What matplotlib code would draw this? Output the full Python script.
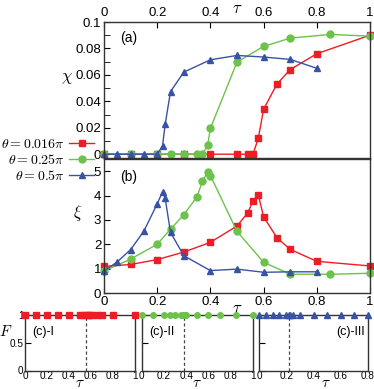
import matplotlib
matplotlib.use("Agg")
import matplotlib.pyplot as plt

# -----------------------------
# data
# -----------------------------
# theta = 0.016 pi  (red squares)
tau_r = [0, 0.1, 0.2, 0.3, 0.4, 0.5, 0.54, 0.56, 0.58, 0.6, 0.65, 0.7, 0.8, 1.0]
chi_r = [0, 0, 0, 0, 0, 0, 0, 0, 0.012, 0.034, 0.053, 0.064, 0.076, 0.09]
xi_r = [1.09, 1.17, 1.37, 1.68, 2.08, 2.75, 3.28, 3.77, 4.03, 3.13, 2.27, 1.79, 1.30, 1.11]

# theta = 0.25 pi  (green circles)
tau_g = [0, 0.1, 0.2, 0.25, 0.3, 0.35, 0.37, 0.39, 0.4, 0.5, 0.6, 0.7, 0.85, 1.0]
chi_g = [0, 0, 0, 0, 0, 0, 0, 0.007, 0.0196, 0.0697, 0.0815, 0.0878, 0.0906, 0.0893]
xi_g = [0.9, 1.39, 2.0, 2.62, 3.21, 3.96, 4.59, 4.96, 4.82, 2.53, 1.26, 0.77, 0.77, 0.81]

# theta = 0.5 pi  (blue triangles)
tau_b = [0, 0.05, 0.1, 0.15, 0.2, 0.22, 0.23, 0.25, 0.3, 0.4, 0.5, 0.6, 0.7, 0.8]
chi_b = [0, 0, 0, 0, 0, 0.0063, 0.0226, 0.0473, 0.0621, 0.0714, 0.0747, 0.0735, 0.0717, 0.065]
xi_b = [0.9, 1.28, 1.78, 2.54, 3.66, 4.15, 3.89, 2.49, 1.53, 0.92, 0.98, 0.85, 0.87, 0.87]

labels = [r"$\theta = 0.016\pi$", r"$\theta = 0.25\pi$", r"$\theta = 0.5\pi$"]
tau_crit = [0.55, 0.38, 0.22]
panel_c = ["(c)-I", "(c)-II", "(c)-III"]

# -----------------------------
# style
# -----------------------------
plt.rcParams['font.family'] = ['Liberation Sans', 'DejaVu Sans']
plt.rcParams['mathtext.fontset'] = 'cm'
plt.rcParams['axes.linewidth'] = 1.0
plt.rcParams['axes.edgecolor'] = '#333333'

colors = ['#ee1c25', '#6cc24a', '#3853a4']
markers = ['s', 'o', '^']
msizes = [4.5, 5, 4.5]

series = [(tau_r, chi_r, xi_r), (tau_g, chi_g, xi_g), (tau_b, chi_b, xi_b)]

fig = plt.figure(figsize=(3.74, 3.89), dpi=100)

W, H = 374.0, 389.0
def box(x0, y0, x1, y1):
    return [x0 / W, 1 - y1 / H, (x1 - x0) / W, (y1 - y0) / H]

ax_a = fig.add_axes(box(104, 22, 370, 157.5))
ax_b = fig.add_axes(box(104, 159, 370, 293))

# -----------------------------
# panel (a)
# -----------------------------
handles = []
for (t, c, x), col, m, ms, lab in zip(series, colors, markers, msizes, labels):
    h, = ax_a.plot(t, c, color=col, marker=m, ms=ms, lw=1.0, mec=col, clip_on=False, label=lab)
    handles.append(h)
ax_a.set_xlim(0, 1)
ax_a.set_ylim(-0.0025, 0.1)
ax_a.set_yticks([0, 0.02, 0.04, 0.06, 0.08, 0.1])
ax_a.set_yticklabels(['0', '0.02', '0.04', '0.06', '0.08', '0.1'])
ax_a.set_yticks([0.01, 0.03, 0.05, 0.07, 0.09], minor=True)
ax_a.set_xticks([0, 0.2, 0.4, 0.6, 0.8, 1.0])
ax_a.set_xticklabels(['0', '0.2', '0.4', '0.6', '0.8', '1'])
ax_a.xaxis.tick_top()
ax_a.xaxis.set_label_position('top')
ax_a.tick_params(direction='in', labelsize=9.5, length=4, pad=2)
ax_a.tick_params(which='minor', direction='in', length=4)
ax_a.set_xlabel(r"$\tau$", fontsize=12, labelpad=-4)
ax_a.set_ylabel(r"$\chi$", fontsize=12, rotation=0, labelpad=8)
ax_a.yaxis.set_label_coords(-0.14, 0.53)
ax_a.text(0.06, 0.93, "(a)", transform=ax_a.transAxes, fontsize=10, va='top')

# -----------------------------
# panel (b)
# -----------------------------
for (t, c, x), col, m, ms in zip(series, colors, markers, msizes):
    ax_b.plot(t, x, color=col, marker=m, ms=ms, lw=1.0, mec=col, clip_on=False)
ax_b.set_xlim(0, 1)
ax_b.set_ylim(0, 5.5)
ax_b.set_yticks([0, 1, 2, 3, 4, 5])
ax_b.set_xticks([0, 0.2, 0.4, 0.6, 0.8, 1.0])
ax_b.set_xticklabels(['0', '0.2', '0.4', '0.6', '0.8', '1'])
ax_b.tick_params(direction='in', labelsize=9.5, length=4, pad=2)
ax_b.set_xlabel(r"$\tau$", fontsize=12, labelpad=-5)
ax_b.set_ylabel(r"$\xi$", fontsize=12, rotation=0)
ax_b.yaxis.set_label_coords(-0.10, 0.52)
ax_b.text(0.06, 0.92, "(b)", transform=ax_b.transAxes, fontsize=10, va='top')

fig.legend(handles=handles, labels=labels, loc='center right',
           bbox_to_anchor=(101 / W, 1 - 160 / H), frameon=False,
           markerfirst=False, fontsize=10, handlelength=1.8,
           handletextpad=0.3, labelspacing=0.15, borderpad=0)

# -----------------------------
# panels (c)
# -----------------------------
c_boxes = [(25, 135), (141.7, 253), (259, 368)]
c_xmax = [1.0, 1.0, 0.8]
c_ticks = [[0, 0.2, 0.4, 0.6, 0.8, 1.0], [0, 0.2, 0.4, 0.6, 0.8, 1.0], [0, 0.2, 0.4, 0.6, 0.8]]
c_label_x = [0.5, 0.5, 0.61]
for i, ((x0, x1), (t, c, x), col, m) in enumerate(zip(c_boxes, series, colors, markers)):
    ax = fig.add_axes(box(x0, 315, x1, 370.5))
    ax.plot(t, [1] * len(t), color=col, marker=m, ms=4, lw=0, mec=col, clip_on=False, zorder=3)
    ax.plot([tau_crit[i], tau_crit[i]], [0, 1], color='#444444', ls=(0, (2.5, 2)), lw=0.9)
    ax.set_xlim(0, c_xmax[i])
    ax.set_ylim(0, 1)
    ax.set_xticks(c_ticks[i])
    ax.set_xticklabels(['0' if v == 0 else ('1' if v == 1 else f"{v:.1f}") for v in c_ticks[i]])
    ax.set_yticks([0, 0.5, 1])
    ax.tick_params(direction='in', labelsize=7.2, length=4, pad=1)
    ax.tick_params(axis='x', length=0, pad=0.5)
    if i == 0:
        ax.set_yticklabels(['0', '0.5', '1'])
        ax.set_ylabel("$F$", fontsize=11, rotation=0)
        ax.yaxis.set_label_coords(-0.175, 0.56)
    else:
        ax.set_yticklabels([])
        ax.tick_params(axis='y', length=4)
    ax.set_xlabel(r"$\tau$", fontsize=11, labelpad=-4, x=c_label_x[i])
    if i == 2:
        ax.text(0.97, 0.8, panel_c[i], transform=ax.transAxes, fontsize=9, va='top', ha='right')
    else:
        ax.text(0.07, 0.8, panel_c[i], transform=ax.transAxes, fontsize=9, va='top')

fig.savefig("out.png", dpi=100)
